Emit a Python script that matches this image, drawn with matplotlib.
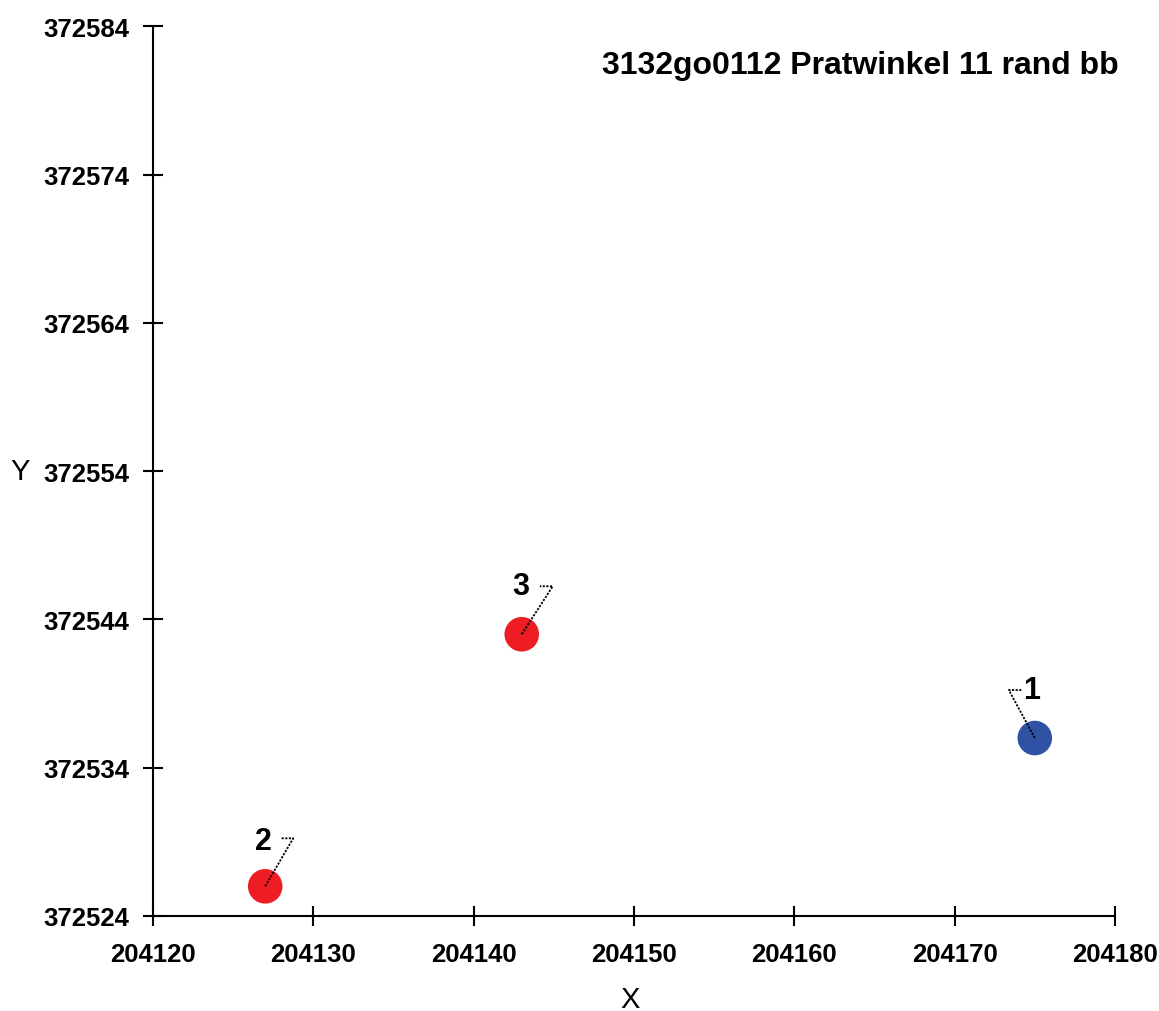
import matplotlib
matplotlib.use('Agg')
import matplotlib.pyplot as plt
import matplotlib.transforms as mtransforms

# Point data
point_ids = ['1', '2', '3']
x_vals = [204175, 204127, 204143]
y_vals = [372536, 372526, 372543]
point_colors = ['#2F52A4', '#EE1D24', '#EE1D24']

# Axis settings
x_ticks = [204120, 204130, 204140, 204150, 204160, 204170, 204180]
y_ticks = [372524, 372534, 372544, 372554, 372564, 372574, 372584]
title_text = '3132go0112 Pratwinkel 11 rand bb'

# Leader line layout in pixels (elbow dx, elbow dy, horizontal length, label dx, label dy)
leaders = {
    '1': (-26, 48, 13, -3, 48),
    '2': (28, 48, -13, -2, 45),
    '3': (31, 48, -13, -1, 48),
}

narrow = ['Liberation Sans Narrow', 'Liberation Sans', 'DejaVu Sans']
plain = ['Liberation Sans', 'DejaVu Sans']

fig = plt.figure(figsize=(11.59, 10.12), dpi=100)
ax = fig.add_axes([0.132, 0.0939, 0.962 - 0.132, 0.973 - 0.0939])

ax.scatter(x_vals, y_vals, s=620, c=point_colors, zorder=3, linewidths=0)

# Labels with leader lines
for pid, xv, yv in zip(point_ids, x_vals, y_vals):
    ex, ey, hx, lx, ly = leaders[pid]
    trans = fig.dpi_scale_trans + mtransforms.ScaledTranslation(xv, yv, ax.transData)
    ax.plot([0, ex / 100, (ex + hx) / 100], [0, ey / 100, ey / 100],
            color='black', linestyle=(0, (1.2, 0.8)), linewidth=1.3, transform=trans,
            zorder=4, clip_on=False)
    ax.text(lx / 100, ly / 100, pid, transform=trans, ha='center', va='center',
            fontsize=22, fontweight='bold', family=plain, zorder=5)

ax.set_xlim(x_ticks[0], x_ticks[-1])
ax.set_ylim(y_ticks[0], y_ticks[-1])
ax.set_xticks(x_ticks)
ax.set_yticks(y_ticks)
ax.set_xticklabels([str(t) for t in x_ticks], fontsize=18.5, fontweight='bold', family=narrow)
ax.set_yticklabels([str(t) for t in y_ticks], fontsize=18.5, fontweight='bold', family=narrow)
ax.tick_params(direction='inout', length=14, width=1.5)
ax.tick_params(axis='y', pad=10)
ax.tick_params(axis='x', pad=12)

for side in ['top', 'right']:
    ax.spines[side].set_visible(False)
for side in ['left', 'bottom']:
    ax.spines[side].set_linewidth(1.5)

ax.set_xlabel('X', fontsize=21, family=plain, va='center')
ax.set_ylabel('Y', fontsize=21, family=plain, rotation=0, va='center', ha='center')
ax.xaxis.set_label_coords(0.496, -0.093)
ax.yaxis.set_label_coords(-0.138, 0.5)

ax.text(0.735, 0.957, title_text, transform=ax.transAxes, ha='center', va='center',
        fontsize=23, fontweight='bold', family=plain)

plt.savefig('out.png', dpi=100)
